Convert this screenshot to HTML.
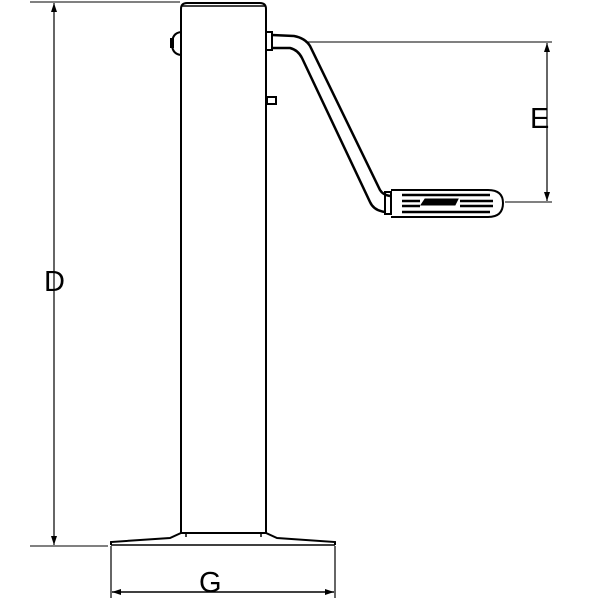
<!DOCTYPE html>
<html><head><style>body{margin:0;background:#fff}svg{display:block}</style></head><body>
<svg width="600" height="600" viewBox="0 0 600 600" xmlns="http://www.w3.org/2000/svg" fill="none" stroke="#000">
<!-- tube -->
<path d="M181,533 V9 Q181,3 187,3 H260 Q266,3 266,9 V533" stroke-width="2"/>
<line x1="182" y1="6" x2="265" y2="6" stroke-width="1.5"/>
<!-- left nub -->
<path d="M181,32 Q172,33 172,44 Q172,54 181,55" stroke-width="2"/>
<rect x="170" y="38" width="4" height="10" fill="#000" stroke="none"/>
<!-- small nut -->
<rect x="267" y="97" width="9" height="7" stroke-width="2"/>
<!-- collar -->
<rect x="266" y="32" width="6" height="18" stroke-width="2"/>
<!-- crank -->
<path d="M272,35 L294,36 Q305,38 310,46 L380,190 Q383,195 390,196" stroke-width="2.5"/>
<path d="M272,48 L290,48 Q298,50 302,58 L370,202 Q374,211 386,212" stroke-width="2.5"/>
<!-- grip -->
<rect x="385" y="192" width="6" height="22" stroke-width="2"/>
<path d="M391,190 H488 Q503,190 503,203 Q503,217 488,217 H391" stroke-width="2"/>
<g stroke-width="2.5">
<line x1="402" y1="195" x2="490" y2="195"/><line x1="402" y1="212" x2="490" y2="212"/>
<line x1="402" y1="201" x2="420" y2="201"/><line x1="402" y1="206" x2="420" y2="206"/>
<line x1="460" y1="201" x2="493" y2="201"/><line x1="460" y1="206" x2="493" y2="206"/>
</g>
<path d="M421,205 L425,199 H458 L455,205 Z" fill="#000" stroke-width="1"/>
<!-- base -->
<path d="M111,545 V542 L170,538 L181,533 H266 L277,538 L335,542 V545" stroke-width="2"/>
<line x1="186" y1="533" x2="186" y2="537" stroke-width="1.5"/>
<line x1="261" y1="533" x2="261" y2="537" stroke-width="1.5"/>
<line x1="111" y1="545" x2="335" y2="545" stroke-width="1.5"/>
<!-- D dim -->
<line x1="30" y1="2" x2="180" y2="2" stroke-width="1"/>
<line x1="30" y1="546" x2="108" y2="546" stroke-width="1"/>
<line x1="54" y1="3" x2="54" y2="545" stroke-width="1.2"/>
<path d="M51,12 L54,3 L57,12 Z M51,536 L54,545 L57,536 Z" fill="#000" stroke="none"/>
<!-- G dim -->
<line x1="111" y1="546" x2="111" y2="598" stroke-width="1.2"/>
<line x1="335" y1="546" x2="335" y2="598" stroke-width="1.2"/>
<line x1="112" y1="592" x2="334" y2="592" stroke-width="1.5"/>
<path d="M112,592 L121,589 L121,595 Z M334,592 L325,589 L325,595 Z" fill="#000" stroke="none"/>
<!-- E dim -->
<line x1="305" y1="42" x2="552" y2="42" stroke-width="1"/>
<line x1="505" y1="202" x2="552" y2="202" stroke-width="1"/>
<line x1="547" y1="43" x2="547" y2="201" stroke-width="1.2"/>
<path d="M544,52 L547,43 L550,52 Z M544,192 L547,201 L550,192 Z" fill="#000" stroke="none"/>
<g fill="#000" stroke="none" font-family="Liberation Sans, sans-serif" font-size="29">
<text x="44" y="291">D</text>
<text x="530" y="128">E</text>
<text x="199" y="592">G</text>
</g>
</svg>
</body></html>
